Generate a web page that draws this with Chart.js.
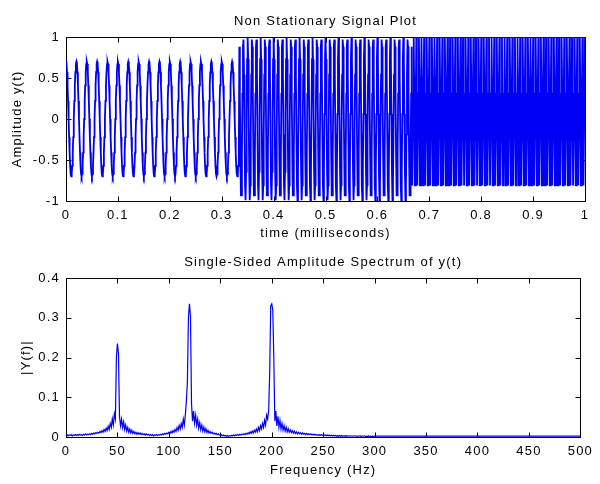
<!DOCTYPE html>
<html><head><meta charset="utf-8">
<script src="https://cdn.jsdelivr.net/npm/chart.js@4.4.1/dist/chart.umd.min.js"></script>
<style>
html,body{margin:0;padding:0;background:#fff;}
#wrap{position:relative;width:600px;height:484px;background:#fff;overflow:hidden;}
canvas{position:absolute;left:0;}
#c1{top:0;} #c2{top:242px;}
</style></head><body>
<div id="wrap"><canvas id="c1" width="600" height="242"></canvas><canvas id="c2" width="600" height="242"></canvas></div>
<script>
// ---------- top plot: sampled signal (1000 samples per time unit) ----------
const sampleRate = 1000;
const seg1Values = [
.7,.67,.57,.41,.22,0,-.22,-.41,-.57,-.67,-.7,-.67,-.57,-.41,-.22,0,.22,.41,.57,.67,
.7,.67,.57,.41,.22,0,-.22,-.41,-.57,-.67,-.7,-.67,-.57,-.41,-.22,0,.22,.41,.57,.67,
.7,.67,.57,.41,.22,0,-.22,-.41,-.57,-.67,-.7,-.67,-.57,-.41,-.22,0,.22,.41,.57,.67,
.7,.67,.57,.41,.22,0,-.22,-.41,-.57,-.67,-.7,-.67,-.57,-.41,-.22,0,.22,.41,.57,.67,
.7,.67,.57,.41,.22,0,-.22,-.41,-.57,-.67,-.7,-.67,-.57,-.41,-.22,0,.22,.41,.57,.67,
.7,.67,.57,.41,.22,0,-.22,-.41,-.57,-.67,-.7,-.67,-.57,-.41,-.22,0,.22,.41,.57,.67,
.7,.67,.57,.41,.22,0,-.22,-.41,-.57,-.67,-.7,-.67,-.57,-.41,-.22,0,.22,.41,.57,.67,
.7,.67,.57,.41,.22,0,-.22,-.41,-.57,-.67,-.7,-.67,-.57,-.41,-.22,0,.22,.41,.57,.67,
.7,.67,.57,.41,.22,0,-.22,-.41,-.57,-.67,-.7,-.67,-.57,-.41,-.22,0,.22,.41,.57,.67,
.7,.67,.57,.41,.22,0,-.22,-.41,-.57,-.67,-.7,-.67,-.57,-.41,-.22,0,.22,.41,.57,.67,
.7,.67,.57,.41,.22,0,-.22,-.41,-.57,-.67,-.7,-.67,-.57,-.41,-.22,0,.22,.41,.57,.67,
.7,.67,.57,.41,.22,0,-.22,-.41,-.57,-.67,-.7,-.67,-.57,-.41,-.22,0,.22,.41,.57,.67,
.7,.67,.57,.41,.22,0,-.22,-.41,-.57,-.67,-.7,-.67,-.57,-.41,-.22,0,.22,.41,.57,.67,
.7,.67,.57,.41,.22,0,-.22,-.41,-.57,-.67,-.7,-.67,-.57,-.41,-.22,0,.22,.41,.57,.67,
.7,.67,.57,.41,.22,0,-.22,-.41,-.57,-.67,-.7,-.67,-.57,-.41,-.22,0,.22,.41,.57,.67,
.7,.67,.57,.41,.22,0,-.22,-.41,-.57,-.67,-.7,-.67,-.57,-.41,-.22,0,.22,.41,.57,.67,
.7,.67,.57,.41,.22,0,-.22,-.41,-.57,-.67,-.7,-.67,-.57,-.41
];
const seg2Values = [
.88,.31,-.43,-.93,-.93,-.43,.31,.88,.97,.54,-.19,-.81,-.99,-.64,.06,.73,
1,.73,.06,-.64,-.99,-.81,-.19,.54,.97,.88,.31,-.43,-.93,-.93,-.43,.31,.88,.97,.54,-.19,-.81,-.99,-.64,.06,.73,
1,.73,.06,-.64,-.99,-.81,-.19,.54,.97,.88,.31,-.43,-.93,-.93,-.43,.31,.88,.97,.54,-.19,-.81,-.99,-.64,.06,.73,
1,.73,.06,-.64,-.99,-.81,-.19,.54,.97,.88,.31,-.43,-.93,-.93,-.43,.31,.88,.97,.54,-.19,-.81,-.99,-.64,.06,.73,
1,.73,.06,-.64,-.99,-.81,-.19,.54,.97,.88,.31,-.43,-.93,-.93,-.43,.31,.88,.97,.54,-.19,-.81,-.99,-.64,.06,.73,
1,.73,.06,-.64,-.99,-.81,-.19,.54,.97,.88,.31,-.43,-.93,-.93,-.43,.31,.88,.97,.54,-.19,-.81,-.99,-.64,.06,.73,
1,.73,.06,-.64,-.99,-.81,-.19,.54,.97,.88,.31,-.43,-.93,-.93,-.43,.31,.88,.97,.54,-.19,-.81,-.99,-.64,.06,.73,
1,.73,.06,-.64,-.99,-.81,-.19,.54,.97,.88,.31,-.43,-.93,-.93,-.43,.31,.88,.97,.54,-.19,-.81,-.99,-.64,.06,.73,
1,.73,.06,-.64,-.99,-.81,-.19,.54,.97,.88,.31,-.43,-.93,-.93,-.43,.31,.88,.97,.54,-.19,-.81,-.99,-.64,.06,.73,
1,.73,.06,-.64,-.99,-.81,-.19,.54,.97,.88,.31,-.43,-.93,-.93,-.43,.31,.88,.97,.54,-.19,-.81,-.99,-.64,.06,.73,
1,.73,.06,-.64,-.99,-.81,-.19,.54,.97,.88,.31,-.43,-.93,-.93,-.43,.31,.88,.97,.54,-.19,-.81,-.99,-.64,.06,.73,
1,.73,.06,-.64,-.99,-.81,-.19,.54,.97,.88,.31,-.43,-.93,-.93,-.43,.31,.88,.97,.54,-.19,-.81,-.99,-.64,.06,.73,
1,.73,.06,-.64,-.99,-.81,-.19,.54,.97,.88,.31,-.43,-.93,-.93,-.43,.31,.88,.97,.54,-.19,-.81,-.99,-.64,.06,.73,
1,.73,.06,-.64,-.99,-.81,-.19,.54,.97,.88,.31,-.43,-.93,-.93,-.43,.31,.88
];
const seg3Values = [
-.81,-.81,.31,
1,.31,-.81,-.81,.31,1,.31,-.81,-.81,.31,1,.31,-.81,-.81,.31,1,.31,-.81,-.81,.31,1,.31,-.81,-.81,.31,1,.31,-.81,-.81,.31,
1,.31,-.81,-.81,.31,1,.31,-.81,-.81,.31,1,.31,-.81,-.81,.31,1,.31,-.81,-.81,.31,1,.31,-.81,-.81,.31,1,.31,-.81,-.81,.31,
1,.31,-.81,-.81,.31,1,.31,-.81,-.81,.31,1,.31,-.81,-.81,.31,1,.31,-.81,-.81,.31,1,.31,-.81,-.81,.31,1,.31,-.81,-.81,.31,
1,.31,-.81,-.81,.31,1,.31,-.81,-.81,.31,1,.31,-.81,-.81,.31,1,.31,-.81,-.81,.31,1,.31,-.81,-.81,.31,1,.31,-.81,-.81,.31,
1,.31,-.81,-.81,.31,1,.31,-.81,-.81,.31,1,.31,-.81,-.81,.31,1,.31,-.81,-.81,.31,1,.31,-.81,-.81,.31,1,.31,-.81,-.81,.31,
1,.31,-.81,-.81,.31,1,.31,-.81,-.81,.31,1,.31,-.81,-.81,.31,1,.31,-.81,-.81,.31,1,.31,-.81,-.81,.31,1,.31,-.81,-.81,.31,
1,.31,-.81,-.81,.31,1,.31,-.81,-.81,.31,1,.31,-.81,-.81,.31,1,.31,-.81,-.81,.31,1,.31,-.81,-.81,.31,1,.31,-.81,-.81,.31,
1,.31,-.81,-.81,.31,1,.31,-.81,-.81,.31,1,.31,-.81,-.81,.31,1,.31,-.81,-.81,.31,1,.31,-.81,-.81,.31,1,.31,-.81,-.81,.31,
1,.31,-.81,-.81,.31,1,.31,-.81,-.81,.31,1,.31,-.81,-.81,.31,1,.31,-.81,-.81,.31,1,.31,-.81,-.81,.31,1,.31,-.81,-.81,.31,
1,.31,-.81,-.81,.31,1,.31,-.81,-.81,.31,1,.31,-.81,-.81,.31,1,.31,-.81,-.81,.31,1,.31,-.81,-.81,.31,1,.31,-.81,-.81,.31,
1,.31,-.81,-.81,.31,1,.31,-.81,-.81,.31,1,.31,-.81,-.81,.31,1,.31,-.81,-.81,.31,1,.31,-.81,-.81,.31,1,.31,-.81,-.81,.31,
1
];
const timeTicks = [0,0.1,0.2,0.3,0.4,0.5,0.6,0.7,0.8,0.9,1];
const timeTickLabels = ['0','0.1','0.2','0.3','0.4','0.5','0.6','0.7','0.8','0.9','1'];
const ampTicks = [-1,-0.5,0,0.5,1];
const ampTickLabels = ['-1','-0.5','0','0.5','1'];

// ---------- bottom plot: single-sided amplitude spectrum (1 Hz bins, 0..300 Hz) ----------
const specAmpPerHz = [
.004,.006,.003,.005,.004,.006,.003,.005,.004,.006,
.004,.006,.004,.007,.005,.006,.004,.007,.005,.008,
.005,.007,.006,.008,.006,.009,.007,.010,.008,.011,
.009,.012,.010,.014,.011,.016,.012,.019,.014,.022,
.016,.027,.019,.034,.024,.046,.030,.058,.045,.200,
.235,.210,.052,.028,.045,.024,.038,.019,.030,.015,
.024,.012,.020,.010,.017,.009,.014,.008,.012,.007,
.011,.007,.010,.006,.009,.006,.008,.005,.008,.005,
.007,.004,.006,.004,.006,.003,.005,.004,.006,.004,
.006,.005,.007,.005,.008,.006,.009,.007,.010,.008,
.012,.009,.014,.010,.016,.012,.019,.014,.024,.017,
.029,.020,.034,.024,.045,.030,.055,.090,.140,.300,
.335,.305,.085,.040,.065,.035,.055,.030,.045,.022,
.036,.018,.030,.015,.025,.013,.021,.011,.017,.010,
.014,.009,.012,.008,.010,.007,.009,.006,.008,.005,
.004,.006,.003,.005,.003,.004,.002,.004,.002,.003,
.003,.004,.003,.005,.003,.005,.004,.006,.004,.007,
.005,.007,.006,.008,.006,.009,.007,.011,.008,.013,
.009,.015,.010,.017,.012,.020,.013,.024,.016,.028,
.020,.034,.024,.042,.030,.055,.045,.065,.160,.330,
.335,.320,.200,.040,.065,.028,.052,.024,.042,.020,
.034,.017,.029,.015,.025,.013,.021,.012,.018,.011,
.016,.010,.015,.009,.013,.008,.012,.008,.011,.007,
.010,.007,.009,.006,.009,.006,.008,.006,.008,.005,
.007,.005,.007,.005,.006,.004,.006,.004,.006,.004,
.005,.004,.005,.003,.005,.003,.005,.003,.004,.003,
.004,.003,.004,.002,.004,.002,.004,.002,.004,.002,
.003,.002,.004,.002,.003,.002,.003,.002,.003,.002,
.003,.002,.003,.001,.003,.002,.003,.001,.003,.002,
.003,.001,.002,.001,.003,.001,.002,.001,.002,.001,
.002
];
const specTailHz = [350,400,450,500];
const specTailAmp = [.002,.002,.002,.002];
const freqTicks = [0,50,100,150,200,250,300,350,400,450,500];
const freqTickLabels = ['0','50','100','150','200','250','300','350','400','450','500'];
const specTicks = [0,0.1,0.2,0.3,0.4];
const specTickLabels = ['0','0.1','0.2','0.3','0.4'];

// ---------- build datasets ----------
const signalPoints = seg1Values.concat(seg2Values, seg3Values).map((v, i) => ({x: i / sampleRate, y: v}));
const specPoints = specAmpPerHz.map((v, i) => ({x: i, y: v}))
  .concat(specTailHz.map((f, i) => ({x: f, y: specTailAmp[i]})));

const FONT = {family: '"Liberation Sans", Arial, Helvetica, sans-serif', size: 13, weight: 'normal', lineHeight: 1.2};
const LETTER_SPACING = '1.2px';
Chart.defaults.color = '#000';

const spacingPlugin = {
  id: 'spacing',
  beforeUpdate(chart) { chart.ctx.letterSpacing = LETTER_SPACING; },
  beforeDraw(chart) { chart.ctx.letterSpacing = LETTER_SPACING; }
};

const matlabAxes = {
  id: 'matlabAxes',
  beforeDatasetsDraw(chart) {
    const {ctx, chartArea: a, scales: {x, y}} = chart;
    const L = 5;
    ctx.save();
    ctx.strokeStyle = '#000';
    ctx.lineWidth = 1;
    ctx.beginPath();
    const l = Math.round(a.left) + 0.5, r = Math.round(a.right) + 0.5;
    const t = Math.round(a.top) + 0.5, b = Math.round(a.bottom) + 0.5;
    ctx.rect(l, t, r - l, b - t);
    x.ticks.forEach(tk => {
      const px = Math.round(x.getPixelForValue(tk.value)) + 0.5;
      ctx.moveTo(px, b); ctx.lineTo(px, b - L);
      ctx.moveTo(px, t); ctx.lineTo(px, t + L);
    });
    y.ticks.forEach(tk => {
      const py = Math.round(y.getPixelForValue(tk.value)) + 0.5;
      ctx.moveTo(l, py); ctx.lineTo(l + L, py);
      ctx.moveTo(r, py); ctx.lineTo(r - L, py);
    });
    ctx.stroke();
    ctx.restore();
  }
};

function makeChart(id, cfg) {
  return new Chart(document.getElementById(id), {
    type: 'line',
    data: {datasets: [{data: cfg.points, borderColor: '#0000f4', borderWidth: cfg.lineW, pointRadius: 0, tension: 0, fill: false}]},
    plugins: [spacingPlugin, matlabAxes],
    options: {
      responsive: false, animation: false, events: [], parsing: false, normalized: true,
      layout: {padding: {left: 0, right: 15, top: 0, bottom: 0}},
      plugins: {legend: {display: false}, tooltip: {enabled: false}, title: {display: false}},
      scales: {
        x: {
          type: 'linear', min: cfg.xMin, max: cfg.xMax,
          grid: {display: false, drawTicks: false}, border: {display: false},
          afterBuildTicks: s => { s.ticks = cfg.xTicks.map(v => ({value: v})); },
          afterFit: s => { s.height = cfg.xAxisH; },
          ticks: {padding: cfg.xTickPad, font: FONT, color: '#000', maxRotation: 0, autoSkip: false,
                  callback: (v, i) => cfg.xLabels[i]},
          title: {display: true, text: cfg.xTitle, color: '#000', font: FONT, padding: {top: 0, bottom: cfg.xTitlePadB}}
        },
        xTop: {
          type: 'linear', position: 'top', min: cfg.xMin, max: cfg.xMax,
          grid: {display: false, drawTicks: false}, border: {display: false},
          ticks: {display: false},
          afterFit: s => { s.height = cfg.topH; },
          title: {display: true, text: cfg.title, color: '#000', font: FONT, padding: {top: cfg.titlePadT, bottom: 0}}
        },
        y: {
          type: 'linear', min: cfg.yMin, max: cfg.yMax,
          grid: {display: false, drawTicks: false}, border: {display: false},
          afterBuildTicks: s => { s.ticks = cfg.yTicks.map(v => ({value: v})); },
          afterFit: s => { s.width = 66; },
          ticks: {padding: 6, font: FONT, color: '#000', callback: (v, i) => cfg.yLabels[i]},
          title: {display: true, text: cfg.yTitle, color: '#000', font: FONT, padding: {top: cfg.yTitlePadT, bottom: 0}}
        }
      }
    }
  });
}

makeChart('c1', {
  points: signalPoints, lineW: 1.8, title: 'Non Stationary Signal Plot', topH: 37, titlePadT: 14,
  xMin: 0, xMax: 1, xTicks: timeTicks, xLabels: timeTickLabels, xAxisH: 41, xTickPad: 7, xTitle: 'time (milliseconds)', xTitlePadB: 1,
  yMin: -1, yMax: 1, yTicks: ampTicks, yLabels: ampTickLabels, yTitle: 'Amplitude y(t)', yTitlePadT: 10
});
makeChart('c2', {
  points: specPoints, lineW: 1.2, title: 'Single-Sided Amplitude Spectrum of y(t)', topH: 36, titlePadT: 13,
  xMin: 0, xMax: 500, xTicks: freqTicks, xLabels: freqTickLabels, xAxisH: 47, xTickPad: 7, xTitle: 'Frequency (Hz)', xTitlePadB: 6,
  yMin: 0, yMax: 0.4, yTicks: specTicks, yLabels: specTickLabels, yTitle: '|Y(f)|', yTitlePadT: 19
});
</script>
</body></html>
